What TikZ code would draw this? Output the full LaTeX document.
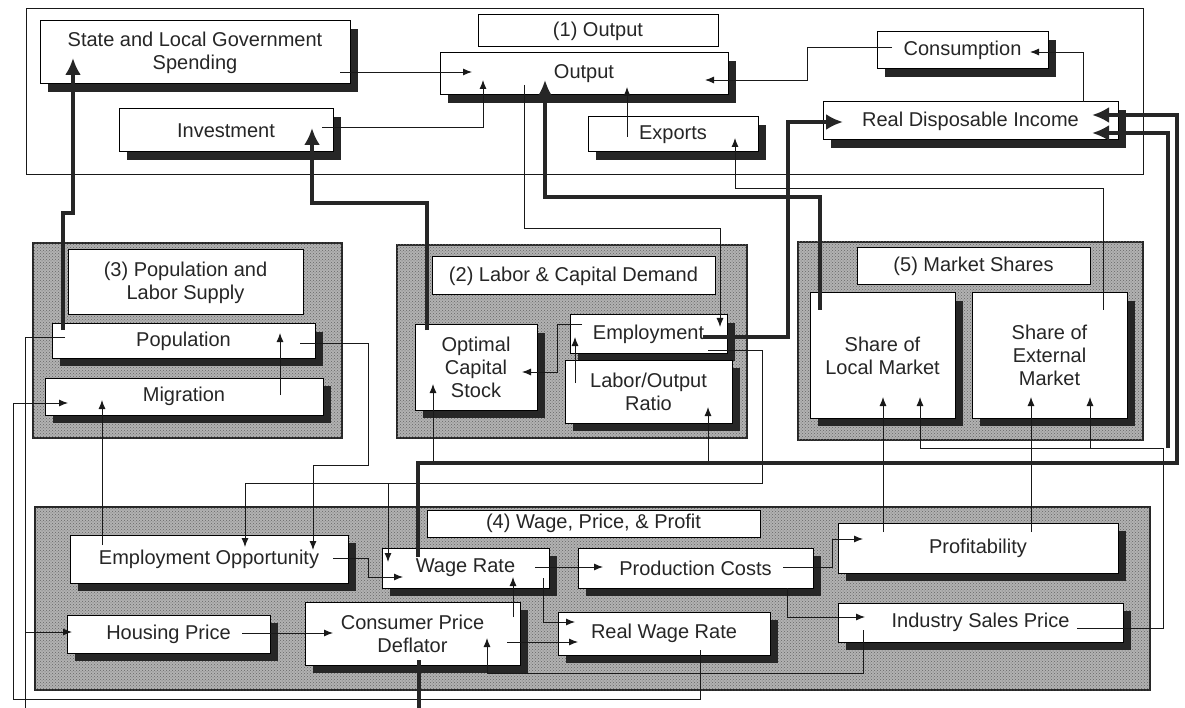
\documentclass[tikz,border=0pt]{standalone}
\usepackage{fontspec}
\setmainfont{Liberation Sans}
\usetikzlibrary{arrows.meta,calc,shadows,patterns}
\begin{document}
\begin{tikzpicture}[x=1pt,y=-1pt,
  txt/.style={font=\fontsize{20}{23}\selectfont, text=black!85, align=center, inner sep=0pt},
  box/.style={txt, draw=black, line width=1pt, fill=white,
    drop shadow={shadow xshift=8pt, shadow yshift=-8pt, fill=black!85, opacity=1}},
  titlebox/.style={txt, draw=black, line width=1pt, fill=white},
  frame/.style={draw=black!85, line width=1.2pt, fill=black!30,
    postaction={pattern=crosshatch dots, pattern color=black!60}},
  ln/.style={line width=0.9pt, draw=black!90},
  lna/.style={ln, -{Latex[length=9pt,width=7pt]}},
  bigln/.style={line width=4.5pt, draw=black!85},
  bigarr/.style={bigln, -{Latex[length=17pt,width=16pt]}}]
\useasboundingbox[fill=white] (0,0) rectangle (1185,708);

% ---------- group frames ----------
\draw[ln] (26,8) rectangle (1143,174);
\draw[frame] (33,243) rectangle (342,438);
\draw[frame] (397,245) rectangle (747,438);
\draw[frame] (798,242) rectangle (1143,440);
\draw[frame] (35,507) rectangle (1150,690);

% ---------- (1) Output ----------
\node[titlebox, minimum width=240pt, minimum height=32pt] (t1) at (598,31) {(1) Output};
\node[box, minimum width=310pt, minimum height=63pt] (slgs) at (195,52.5) {State and Local Government\\Spending};
\node[box, minimum width=214pt, minimum height=43pt] (inv) at (226,130.5) {Investment};
\node[box, minimum width=288pt, minimum height=42pt] (out) at (584,74) {Output};
\node[box, minimum width=170pt, minimum height=35pt] (exp) at (673,134.5) {Exports};
\node[box, minimum width=171pt, minimum height=37pt] (cons) at (962.5,50.5) {Consumption};
\node[box, minimum width=295pt, minimum height=38pt] (rdi) at (970.5,121) {Real Disposable Income};

% ---------- (3) Population ----------
\node[titlebox, minimum width=235pt, minimum height=65pt] (t3) at (185.5,282.5) {(3) Population and\\Labor Supply};
\node[box, minimum width=263pt, minimum height=34pt] (pop) at (183.5,341) {Population};
\node[box, minimum width=278pt, minimum height=37pt] (mig) at (184,396.5) {Migration};

% ---------- (2) Labor & Capital ----------
\node[titlebox, minimum width=283pt, minimum height=38pt] (t2) at (573.5,276) {(2) Labor \& Capital Demand};
\node[box, minimum width=122pt, minimum height=85pt] (ocs) at (476,367.5) {Optimal\\Capital\\Stock};
\node[box, minimum width=157pt, minimum height=38pt] (emp) at (648.5,334) {Employment};
\node[box, minimum width=167pt, minimum height=63pt] (lor) at (648.5,391.5) {Labor/Output\\Ratio};

% ---------- (5) Market Shares ----------
\node[titlebox, minimum width=233pt, minimum height=37pt] (t5) at (973.5,266.5) {(5) Market Shares};
\node[box, minimum width=145pt, minimum height=125pt] (slm) at (882.5,355.5) {Share of\\Local Market};
\node[box, minimum width=155pt, minimum height=125pt] (sem) at (1049.5,355.5) {Share of\\External\\Market};

% ---------- (4) Wage, Price, Profit ----------
\node[titlebox, minimum width=333pt, minimum height=27pt] (t4) at (593.5,523.5) {(4) Wage, Price, \& Profit};
\node[box, minimum width=278pt, minimum height=48pt] (eo) at (209,559) {Employment Opportunity};
\node[box, minimum width=203pt, minimum height=38pt] (hp) at (168.5,634) {Housing Price};
\node[box, minimum width=215pt, minimum height=63pt] (cpd) at (412.5,633.5) {Consumer Price\\Deflator};
\node[box, minimum width=167pt, minimum height=40pt] (wr) at (465.5,568) {Wage Rate};
\node[box, minimum width=235pt, minimum height=40pt] (pc) at (695.5,568) {Production Costs};
\node[box, minimum width=212pt, minimum height=43pt] (rwr) at (664,633.5) {Real Wage Rate};
\node[box, minimum width=280pt, minimum height=50pt] (prof) at (978,548) {Profitability};
\node[box, minimum width=285pt, minimum height=39pt] (isp) at (980.5,622.5) {Industry Sales Price};

\coordinate (popout) at (25,708);
\coordinate (cpdout) at (419,708);

% ---------- connectors ----------
\draw[lna] ($(slgs.center)+(145,19.5)$) -- ($(out.center)+(-112,-2)$);
\draw[lna] ($(inv.center)+(96,-3.5)$) -| ($(out.center)+(-101,6)$);
\draw[lna] ($(cons.center)+(-70.5,-3.5)$) -- ++(-85,0) |- ($(out.center)+(121,6)$);
\draw[lna] ($(rdi.center)+(112.5,-19)$) |- ($(cons.center)+(67.5,1.5)$);
\draw[lna] ($(exp.center)+(-46,2.5)$) -- ($(out.center)+(43,13)$);
\draw[lna] ($(sem.center)+(53.5,-45.5)$) -- ++(0,-122) -| ($(exp.center)+(62,3.5)$);
\draw[lna] ($(out.center)+(-60,11)$) -- ++(0,143) -| ($(emp.center)+(71.5,-7)$);
\draw[lna] ($(emp.center)+(-66.5,-10)$) -- ++(-25,0) |- ($(ocs.center)+(46,4.5)$);
\draw[lna] ($(lor.center)+(-73.5,-8.5)$) -- ($(emp.center)+(-73.5,3)$);
\draw[lna] ($(wr.center)+(-32.5,-105)$) -- ($(ocs.center)+(-43,16.5)$);
\draw[lna] ($(wr.center)+(242.5,-105)$) -- ($(lor.center)+(59.5,15.5)$);
\draw[lna] ($(emp.center)+(59.5,16)$) -- ++(54,0) -- ++(0,133) -| ($(eo.center)+(36,-12)$);
\draw[lna] ($(wr.center)+(-77.5,-85)$) -- ($(wr.center)+(-77.5,-6)$);
\draw[lna] ($(pop.center)+(116.5,2)$) -- ++(68,0) -- ++(0,122) -| ($(eo.center)+(104,-9)$);
\draw[lna] ($(eo.center)+(-107,-14)$) -- ($(mig.center)+(-82,3.5)$);
\draw[lna] ($(mig.center)+(96,-1.5)$) -- ($(pop.center)+(96.5,-8)$);
\draw[ln] ($(pop.center)+(-118.5,-4)$) -- ++(-40,0) -- (popout);
\draw[lna] ($(hp.center)+(-143.5,-2)$) -- ($(hp.center)+(-96.5,-2)$);
\draw[lna] ($(rwr.center)+(36,16.5)$) -- ++(0,49) -- ++(-687,0) |- ($(mig.center)+(-116,6.5)$);
\draw[lna] ($(eo.center)+(124,-1)$) -- ++(35,0) |- ($(wr.center)+(-62.5,9)$);
\draw[lna] ($(hp.center)+(73.5,-1)$) -- ($(cpd.center)+(-79.5,-0.5)$);
\draw[lna] ($(wr.center)+(69.5,-1)$) -- ($(pc.center)+(-92.5,-1)$);
\draw[lna] ($(wr.center)+(77.5,10)$) |- ($(rwr.center)+(-89,-11.5)$);
\draw[lna] ($(cpd.center)+(94.5,8.5)$) -- ($(rwr.center)+(-86,8.5)$);
\draw[lna] ($(cpd.center)+(100.5,-16.5)$) -- ($(wr.center)+(47.5,9)$);
\draw[lna] ($(isp.center)+(-117.5,7.5)$) -- ++(0,43) -| ($(cpd.center)+(74.5,4.5)$);
\draw[lna] ($(pc.center)+(87.5,-1)$) -- ++(49,0) |- ($(prof.center)+(-115,-9)$);
\draw[lna] ($(pc.center)+(91.5,20)$) |- ($(isp.center)+(-115.5,-5.5)$);
\draw[lna] ($(prof.center)+(-95,-16)$) -- ($(slm.center)+(0.5,41.5)$);
\draw[lna] ($(prof.center)+(53,-16)$) -- ($(sem.center)+(-18.5,41.5)$);
\draw[lna] ($(isp.center)+(96.5,5.5)$) -- ++(86,0) -- ++(0,-180) -| ($(slm.center)+(37.5,41.5)$);
\draw[lna] ($(sem.center)+(40.5,92.5)$) -- ($(sem.center)+(40.5,41.5)$);

% thick connectors
\draw[bigarr] ($(slm.center)+(-62.5,-45.5)$) -- ++(0,-113) -| ($(out.center)+(-39,6)$);
\draw[bigarr] ($(emp.center)+(54.5,3)$) -- ++(85,0) |- ($(rdi.center)+(-127.5,1)$);
\draw[bigarr] ($(ocs.center)+(-49,-37.5)$) -- ++(0,-127) -| ($(inv.center)+(86,-2.5)$);
\draw[bigarr] ($(pop.center)+(-120.5,-11)$) -- ++(0,-117) -| ($(slgs.center)+(-122,5.5)$);
\draw[bigarr] ($(wr.center)+(-47.5,-11)$) -- ++(0,-94) -- ++(759,0) |- ($(rdi.center)+(121.5,-6)$);
\draw[bigarr] ($(isp.center)+(187.5,-174.5)$) |- ($(rdi.center)+(121.5,12)$);
\draw[bigln] ($(cpd.center)+(6.5,26.5)$) -- (cpdout);
\end{tikzpicture}
\end{document}
